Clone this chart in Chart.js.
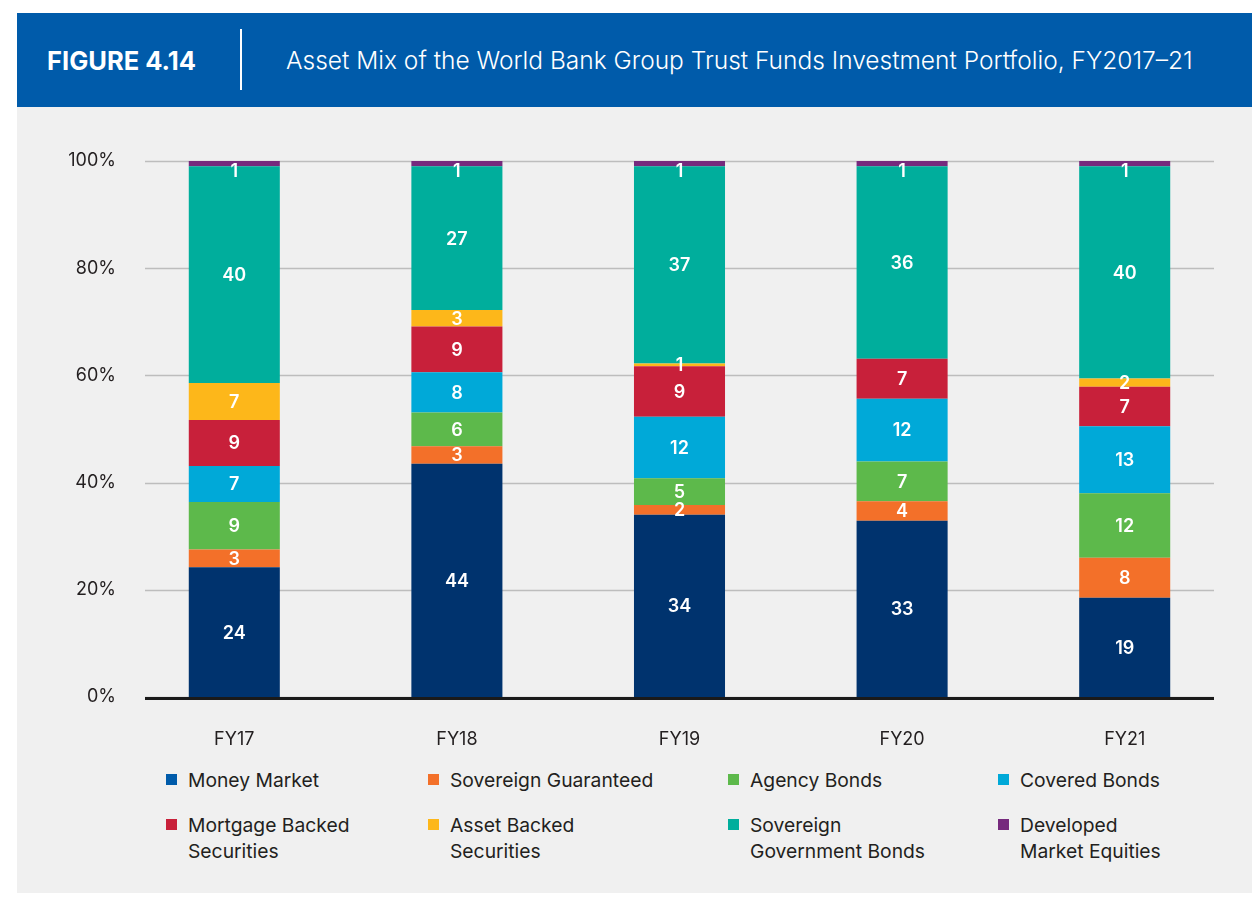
<!DOCTYPE html>
<html>
<head>
<meta charset="utf-8">
<script src="https://cdn.jsdelivr.net/npm/chart.js@4/dist/chart.umd.min.js"></script>
<style>
    body { margin: 0; background: #fff; width: 1252px; height: 905px; overflow: hidden; font-family: Inter, "Noto Sans", sans-serif; }
    .header { position: absolute; left: 17px; top: 13px; width: 1235px; height: 94px; background: #005baa; color: #fff; }
    .fig { position: absolute; left: 30px; top: 35px; font-size: 25.5px; line-height: 26px; font-weight: 700; white-space: nowrap; }
    .sep { position: absolute; left: 223px; top: 16px; width: 2px; height: 61px; background: #fff; }
    .title { position: absolute; left: 269px; top: 35px; font-size: 24.5px; line-height: 25px; font-weight: 300; white-space: nowrap; }
    .panel { position: absolute; left: 17px; top: 107px; width: 1235px; height: 786px; background: #f0f0f0; }
    .box { position: absolute; left: 0; top: 0; width: 1235px; height: 650px; }
    .item { position: absolute; font-size: 19.3px; line-height: 26px; color: #231f20; padding-left: 22px; white-space: nowrap; }
    .item span { position: absolute; left: 0; top: 7px; width: 11px; height: 11px; }
</style>
</head>
<body>
<div class="header">
    <div class="fig">FIGURE 4.14</div>
    <div class="sep"></div>
    <div class="title">Asset Mix of the World Bank Group Trust Funds Investment Portfolio, FY2017–21</div>
</div>
<div class="panel">
    <div class="box"><canvas id="mix"></canvas></div>
    <div id="legend"></div>
</div>
<script>
// fiscal years
const years = ['FY17', 'FY18', 'FY19', 'FY20', 'FY21'];

// share of portfolio (%)
const moneyMarket = [24.2, 43.5, 34.0, 32.9, 18.5];
const sovGuaranteed = [3.3, 3.3, 1.8, 3.6, 7.5];
const agencyBonds = [8.9, 6.3, 5.0, 7.45, 12.0];
const coveredBonds = [6.7, 7.5, 11.5, 11.7, 12.5];
const mortgageBacked = [8.6, 8.5, 9.4, 7.45, 7.4];
const assetBacked = [6.9, 3.1, 0.5, 0, 1.5];
const sovGovernment = [40.4, 26.8, 36.8, 35.9, 39.6];
const devEquities = [1.0, 1.0, 1.0, 1.0, 1.0];

const yTicks = [0, 20, 40, 60, 80, 100];

const names = [
    ['Money Market'],
    ['Sovereign Guaranteed'],
    ['Agency Bonds'],
    ['Covered Bonds'],
    ['Mortgage Backed', 'Securities'],
    ['Asset Backed', 'Securities'],
    ['Sovereign', 'Government Bonds'],
    ['Developed', 'Market Equities']
];
const series = [moneyMarket, sovGuaranteed, agencyBonds, coveredBonds, mortgageBacked, assetBacked, sovGovernment, devEquities];
const barColors = ['#00336e', '#f37029', '#5db94b', '#00a9d8', '#c8203a', '#fdb71a', '#00ae9c', '#762a7d'];
const swatchColors = ['#005baa', '#f37029', '#5db94b', '#00a9d8', '#c8203a', '#fdb71a', '#00ae9c', '#762a7d'];

// grid lines + axis line only span part of the chart area
const GRID_L = 128, GRID_R = 1197;

const gridLines = {
    id: 'gridLines',
    beforeDatasetsDraw(chart) {
        const ctx = chart.ctx, y = chart.scales.y;
        ctx.save();
        ctx.strokeStyle = '#bdbdbd';
        ctx.lineWidth = 1.5;
        yTicks.forEach(v => {
            const py = Math.round(y.getPixelForValue(v)) + 0.5;
            ctx.beginPath();
            ctx.moveTo(GRID_L, py);
            ctx.lineTo(GRID_R, py);
            ctx.stroke();
        });
        ctx.restore();
    },
    afterDatasetsDraw(chart) {
        const ctx = chart.ctx, y = chart.scales.y;
        const py = y.getPixelForValue(0);
        ctx.save();
        ctx.strokeStyle = '#1a1a1a';
        ctx.lineWidth = 3;
        ctx.beginPath();
        ctx.moveTo(GRID_L, py + 1.5);
        ctx.lineTo(GRID_R, py + 1.5);
        ctx.stroke();

        // value labels inside the segments
        ctx.fillStyle = '#fff';
        ctx.font = '600 18px Inter';
        ctx.textAlign = 'center';
        ctx.textBaseline = 'middle';
        const top = chart.chartArea.top;
        chart.data.datasets.forEach((ds, i) => {
            chart.getDatasetMeta(i).data.forEach((bar, j) => {
                const v = ds.data[j];
                if (!v) return;
                const p = bar.getCenterPoint();
                ctx.fillText(String(Math.round(v)), p.x, Math.max(p.y, top + 10) + 1);
            });
        });
        ctx.restore();
    }
};

const datasets = series.map((d, i) => ({
    label: names[i].join(' '),
    data: d,
    backgroundColor: barColors[i],
    borderWidth: 0,
    categoryPercentage: 1,
    barPercentage: 0.409
}));

new Chart(document.getElementById('mix'), {
    type: 'bar',
    data: { labels: years, datasets: datasets },
    options: {
        responsive: true,
        maintainAspectRatio: false,
        animation: false,
        layout: { padding: { top: 54, right: 16, left: 0, bottom: 0 } },
        plugins: {
            legend: { display: false },
            tooltip: { enabled: false }
        },
        scales: {
            x: {
                stacked: true,
                grid: { display: false },
                border: { display: false },
                ticks: { color: '#231f20', font: { family: 'Inter', size: 18 }, padding: 24 },
                afterFit: s => { s.height = 60; }
            },
            y: {
                stacked: true,
                min: 0,
                max: 100,
                grid: { display: false, drawTicks: false },
                border: { display: false },
                ticks: {
                    stepSize: 20,
                    color: '#231f20',
                    font: { family: 'Inter', size: 18 },
                    padding: 7,
                    callback: v => v + '%'
                },
                afterFit: s => { s.width = 106; }
            }
        }
    },
    plugins: [gridLines]
});

// legend in two rows of four
const legendCols = [149, 411, 711, 981];
const legendRows = [660, 705];
const legend = document.getElementById('legend');
names.forEach((n, i) => {
    const el = document.createElement('div');
    el.className = 'item';
    el.style.left = legendCols[i % 4] + 'px';
    el.style.top = legendRows[Math.floor(i / 4)] + 'px';
    el.innerHTML = '<span style="background:' + swatchColors[i] + '"></span>' + n.join('<br>');
    legend.appendChild(el);
});
</script>
</body>
</html>
